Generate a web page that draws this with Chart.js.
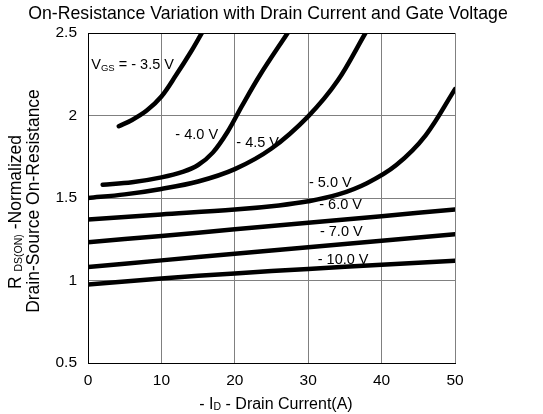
<!DOCTYPE html>
<html>
<head>
<meta charset="utf-8">
<script src="https://cdn.jsdelivr.net/npm/chart.js@4"></script>
<style>
  body { margin: 0; background: #fff; }
</style>
</head>
<body>
<canvas id="myChart" width="543" height="414"></canvas>
<script>
  // datos (Id en A, Rds normalizada)
  const gateLabels = ['- 3.5 V', '- 4.0 V', '- 4.5 V', '- 5.0 V', '- 6.0 V', '- 7.0 V', '- 10.0 V'];

  const x35 = [4.2, 6, 8, 10, 12, 14, 15.5];
  const y35 = [1.935, 1.973, 2.03, 2.115, 2.245, 2.385, 2.5];

  const x40 = [2, 6, 10, 13, 15, 17, 19, 21, 23.5, 27.2];
  const y40 = [1.58, 1.595, 1.625, 1.66, 1.70, 1.775, 1.90, 2.06, 2.25, 2.5];

  const x45 = [0, 5, 10, 15, 20, 25, 30, 34, 37.8];
  const y45 = [1.50, 1.522, 1.555, 1.60, 1.675, 1.80, 1.995, 2.21, 2.5];

  const x50 = [0, 10, 20, 26, 30, 34, 38, 42, 46, 50];
  const y50 = [1.37, 1.40, 1.43, 1.455, 1.48, 1.52, 1.59, 1.70, 1.88, 2.16];

  const xLin = [0, 10, 20, 30, 40, 50];
  const y60 = [1.232, 1.27, 1.31, 1.35, 1.39, 1.43];
  const y70 = [1.082, 1.122, 1.162, 1.202, 1.241, 1.28];
  const y100 = [0.976, 1.012, 1.043, 1.07, 1.095, 1.12];

  const xTicks = [0, 10, 20, 30, 40, 50];
  const yTicks = [0.5, 1, 1.5, 2, 2.5];

  const FONT = '"Liberation Sans", Arial, sans-serif';

  const pts = (xs, ys) => xs.map((x, i) => ({ x: x, y: ys[i] }));

  const series = [
    pts(x35, y35), pts(x40, y40), pts(x45, y45), pts(x50, y50),
    pts(xLin, y60), pts(xLin, y70), pts(xLin, y100)
  ];

  // texto con subindices: partes [texto, tamaño, desplazamiento]
  function richText(ctx, parts, cx, cy, rotate, align) {
    ctx.save();
    ctx.translate(cx, cy);
    if (rotate) ctx.rotate(-Math.PI / 2);
    let total = 0;
    parts.forEach(p => {
      ctx.font = p[1] + 'px ' + FONT;
      total += ctx.measureText(p[0]).width;
    });
    let x = align === 'left' ? 0 : -total / 2;
    ctx.fillStyle = '#000';
    ctx.textBaseline = 'alphabetic';
    parts.forEach(p => {
      ctx.font = p[1] + 'px ' + FONT;
      ctx.fillText(p[0], x, p[2]);
      x += ctx.measureText(p[0]).width;
    });
    ctx.restore();
  }

  // posiciones de las etiquetas en unidades de la grafica
  const labelPos = [[0.45, 2.31], [11.9, 1.885], [20.2, 1.84], [30.1, 1.60], [31.5, 1.465], [31.6, 1.30], [31.3, 1.13]];

  const extras = {
    id: 'extras',
    afterDraw(chart) {
      const ctx = chart.ctx;
      const a = chart.chartArea;
      const xs = chart.scales.x, ys = chart.scales.y;

      // marco superior
      ctx.save();
      ctx.strokeStyle = '#000';
      ctx.lineWidth = 1;
      ctx.beginPath();
      ctx.moveTo(a.left, a.top + 0.5);
      ctx.lineTo(a.right, a.top + 0.5);
      ctx.stroke();
      ctx.restore();

      // titulo
      richText(ctx, [['On-Resistance Variation with Drain Current and Gate Voltage', 17.7, 0]], 268, 19, false);

      // titulo eje x
      richText(ctx, [['- I', 16, 0], ['D', 10.5, 1], [' - Drain Current(A)', 16, 0]], 276, 409, false);

      // titulo eje y (dos lineas)
      richText(ctx, [['R ', 17.5, 0], ['DS(ON)', 10.5, 1], [' -Normalized', 17.5, 0]], 21, 212, true);
      richText(ctx, [['Drain-Source On-Resistance', 17.5, 0]], 39, 201, true);

      // etiquetas de las curvas
      labelPos.forEach((p, i) => {
        const px = xs.getPixelForValue(p[0]);
        const py = ys.getPixelForValue(p[1]) + 5;
        if (i === 0) {
          richText(ctx, [['V', 14.5, 0], ['GS', 9.5, 2], [' = - 3.5 V', 14.5, 0]], px, py, false, 'left');
        } else {
          richText(ctx, [[gateLabels[i], 14.5, 0]], px, py, false, 'left');
        }
      });
    }
  };

  new Chart(document.getElementById('myChart'), {
    type: 'line',
    data: {
      datasets: series.map((d, i) => ({
        label: gateLabels[i],
        data: d,
        borderColor: '#000',
        borderWidth: 4.5,
        pointRadius: 0,
        fill: false,
        tension: 0.35,
        borderCapStyle: 'round'
      }))
    },
    options: {
      responsive: false,
      animation: false,
      layout: { padding: { top: 33, right: 88, left: 0, bottom: 0 } },
      plugins: {
        legend: { display: false },
        tooltip: { enabled: false }
      },
      scales: {
        x: {
          type: 'linear',
          min: 0,
          max: 50,
          afterBuildTicks: s => { s.ticks = xTicks.map(v => ({ value: v })); },
          ticks: { color: '#000', font: { family: FONT, size: 15.5 }, padding: 8, maxRotation: 0,
                   callback: v => String(v) },
          grid: { color: '#808080', lineWidth: 1, drawTicks: false },
          border: { color: '#000' },
          afterFit: s => { s.height = 51; }
        },
        y: {
          min: 0.5,
          max: 2.5,
          afterBuildTicks: s => { s.ticks = yTicks.map(v => ({ value: v })); },
          ticks: { color: '#000', font: { family: FONT, size: 15.5 }, padding: 11,
                   callback: v => String(v) },
          grid: { color: '#808080', lineWidth: 1, drawTicks: false },
          border: { color: '#000' },
          afterFit: s => { s.width = 88; }
        }
      }
    },
    plugins: [extras]
  });
</script>
</body>
</html>
